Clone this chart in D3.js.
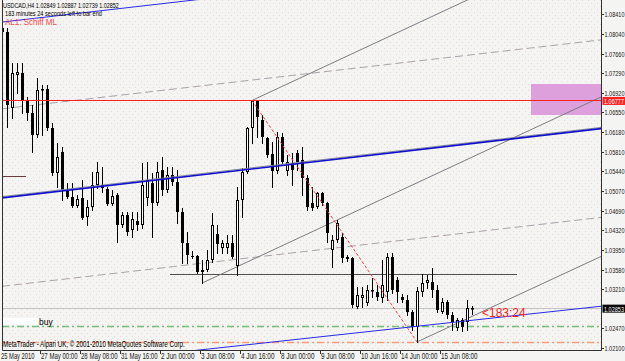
<!DOCTYPE html>
<html>
<head>
<meta charset="utf-8">
<script src="https://cdn.jsdelivr.net/npm/d3@7"></script>
<style>
html, body { margin: 0; padding: 0; background: #f4f4f2; }
svg { display: block; font-family: "Liberation Sans", Arial, sans-serif; }
</style>
</head>
<body>
<div id="chart"></div>
<script>
// USDCAD H4 with Schiff pitchfork, MT4 style snapshot

const symbol = "USDCAD,H4";

// H4 bars, oldest first (last one is the live bar)
const barOpen = [1.08145,1.08070,1.06633,1.07257,1.07295,1.06785,1.06539,1.06123,1.06974,1.06992,
  1.06255,1.05405,1.05802,1.05084,1.04951,1.04781,1.04932,1.04573,1.04762,1.05178,
  1.05178,1.05102,1.04819,1.04989,1.04422,1.04611,1.04328,1.04498,1.04422,1.04932,
  1.05216,1.04838,1.05462,1.05084,1.05367,1.05235,1.04668,1.04082,1.03836,1.03836,
  1.03534,1.03572,1.03761,1.04252,1.03987,1.03987,1.04082,1.03647,1.04895,1.05424,
  1.06255,1.06766,1.06407,1.06066,1.05764,1.05443,1.06085,1.05443,1.05594,1.05783,
  1.05651,1.05310,1.04838,1.04762,1.05027,1.04838,1.03950,1.04139,1.04195,1.03817,
  1.03798,1.02872,1.03042,1.02948,1.03175,1.03156,1.03042,1.03156,1.03817,1.03383,
  1.03061,1.03005,1.02778,1.02494,1.03156,1.03326,1.03345,1.03194,1.02778,1.02967,
  1.02721,1.02475,1.02627,1.02589,1.02849];
const barHigh = [1.08297,1.08145,1.07484,1.07484,1.07484,1.06841,1.06690,1.07200,1.07068,1.07068,
  1.06350,1.05972,1.05896,1.05216,1.05216,1.04989,1.05273,1.04895,1.05424,1.05613,
  1.05518,1.05140,1.05084,1.05027,1.04668,1.04668,1.04668,1.04668,1.05594,1.05613,
  1.05405,1.05613,1.05707,1.05518,1.05518,1.05462,1.04743,1.04290,1.03931,1.03855,
  1.03761,1.03950,1.04649,1.04422,1.04139,1.04233,1.04233,1.05140,1.05499,1.06274,
  1.06777,1.06760,1.06501,1.06085,1.05991,1.06180,1.06161,1.05745,1.05783,1.05840,
  1.05896,1.05367,1.05140,1.05046,1.05046,1.04857,1.04233,1.04517,1.04271,1.03855,
  1.03817,1.03250,1.03250,1.03288,1.03420,1.03288,1.03761,1.03893,1.03893,1.03439,
  1.03118,1.03099,1.02816,1.03250,1.03496,1.03477,1.03609,1.03288,1.03042,1.03005,
  1.02778,1.02664,1.02664,1.03005,1.02887];
const barLow = [1.08051,1.06274,1.06444,1.06917,1.06539,1.06407,1.05802,1.06085,1.06123,1.06218,
  1.05367,1.05140,1.04895,1.04932,1.04762,1.04762,1.04535,1.04422,1.04706,1.05121,
  1.05046,1.04800,1.04800,1.04101,1.04384,1.04233,1.04195,1.04328,1.04365,1.04800,
  1.04195,1.04800,1.04989,1.05046,1.05178,1.04460,1.03704,1.03704,1.03798,1.03515,
  1.03326,1.03553,1.03723,1.03893,1.03893,1.03893,1.03798,1.03477,1.04573,1.05405,
  1.05972,1.06085,1.05972,1.05707,1.05140,1.05405,1.05594,1.05367,1.05178,1.05462,
  1.04989,1.04706,1.04706,1.04743,1.04800,1.04101,1.03628,1.04101,1.03723,1.03742,
  1.02872,1.02853,1.02872,1.02910,1.03061,1.03005,1.02967,1.03005,1.03137,1.02967,
  1.02967,1.02721,1.02438,1.02215,1.03080,1.03231,1.03061,1.02778,1.02759,1.02664,
  1.02438,1.02438,1.02419,1.02438,1.02739];
const barClose = [1.08070,1.06690,1.07295,1.07314,1.06785,1.06539,1.06123,1.06974,1.06992,1.06255,
  1.05405,1.05707,1.05084,1.04951,1.04781,1.04913,1.04554,1.04762,1.05178,1.05424,
  1.05121,1.04819,1.04970,1.04422,1.04611,1.04290,1.04535,1.04422,1.05178,1.05273,
  1.04838,1.05424,1.05084,1.05367,1.05235,1.04668,1.04082,1.03855,1.03817,1.03534,
  1.03572,1.03761,1.04422,1.04063,1.04082,1.04082,1.03817,1.04895,1.05424,1.06255,
  1.06766,1.06463,1.06085,1.05745,1.05443,1.06085,1.05613,1.05613,1.05462,1.05613,
  1.05310,1.04762,1.04743,1.05027,1.04838,1.04271,1.04139,1.04460,1.03798,1.03779,
  1.02910,1.03099,1.03099,1.03194,1.03194,1.03061,1.03288,1.03817,1.03194,1.03156,
  1.03005,1.02778,1.02494,1.03175,1.03326,1.03383,1.03194,1.02816,1.02967,1.02721,
  1.02589,1.02627,1.02494,1.02853,1.02852];

// time axis: one label every 8 bars
const timeLabels = ["25 May 2010","27 May 00:00","28 May 08:00","31 May 16:00","2 Jun 00:00","3 Jun 08:00",
  "4 Jun 16:00","8 Jun 00:00","9 Jun 08:00","10 Jun 16:00","14 Jun 00:00","15 Jun 08:00"];
const priceTicks = [1.08410,1.08040,1.07660,1.07290,1.06920,1.06550,1.06180,1.05810,1.05440,
  1.05070,1.04690,1.04320,1.03950,1.03580,1.03210,1.02470,1.02100];

const bidPrice = 1.02853;
const alertPrice = 1.06777;
const buyLevel = 1.02515;
const stopLevel = 1.02219;
const oldLevel = 1.05355;
const rangeLevel = 1.03496;

// chart objects in [bar, price] coordinates
const schiffBlue = [[[0,1.08257],[120,1.09561]], [[0,1.04936],[120,1.06247]], [[0,1.01656],[120,1.02891]]];
const schiffWarn = [[[0,1.06619],[120,1.07923]], [[0,1.03266],[120,1.04569]]];
const forkLines = [[[50,1.06777],[120,1.09861]], [[40,1.03326],[120,1.06851]], [[83,1.02215],[120,1.03838]]];
const swingLine = [[50,1.06777],[83,1.02215]];
const rangeSpan = [33.6, 103];
const oldSpan = [0, 4.8];
const targetZone = {bars: [105.8, 120.4], prices: [1.06502, 1.07088]};

const width = 625, height = 361;
const plot = {left: 2, right: 601, top: 0, bottom: 350};

const x = d3.scaleLinear().domain([0, 120]).range([2, 602]);
const y = d3.scaleLinear().domain([1.0210, 1.0841]).range([348, 14]);

const svg = d3.select("#chart").append("svg")
  .attr("width", width).attr("height", height)
  .attr("viewBox", [0, 0, width, height]);

const defs = svg.append("defs");
defs.append("clipPath").attr("id", "plotclip")
  .append("rect").attr("x", plot.left).attr("y", plot.top)
  .attr("width", plot.right - plot.left).attr("height", plot.bottom - plot.top);
const pat = defs.append("pattern").attr("id", "dots")
  .attr("width", 6).attr("height", 6).attr("patternUnits", "userSpaceOnUse");
pat.append("rect").attr("x", 0).attr("y", 0).attr("width", 1).attr("height", 1).attr("fill", "#ead6d6");
pat.append("rect").attr("x", 3).attr("y", 3).attr("width", 1).attr("height", 1).attr("fill", "#ead6d6");

svg.append("rect").attr("width", width).attr("height", height).attr("fill", "#f4f4f2");
svg.append("rect").attr("x", plot.left).attr("y", plot.top)
  .attr("width", plot.right - plot.left).attr("height", plot.bottom - plot.top)
  .attr("fill", "url(#dots)");

const g = svg.append("g").attr("clip-path", "url(#plotclip)");
const crisp = v => Math.round(v) + 0.5;

// MT4 uses a narrow bitmap font, so squeeze the text horizontally to the measured width
function label(parent, str, px, py, size, fitWidth, color) {
  const t = parent.append("text").attr("font-size", size).attr("fill", color || "#000").text(str);
  const w = t.node().getComputedTextLength();
  const sx = fitWidth ? fitWidth / w : 1;
  t.attr("transform", `translate(${px},${py}) scale(${sx},1)`);
  return t;
}

// target zone box
g.append("rect")
  .attr("x", x(targetZone.bars[0])).attr("y", y(targetZone.prices[1]))
  .attr("width", x(targetZone.bars[1]) - x(targetZone.bars[0]))
  .attr("height", y(targetZone.prices[0]) - y(targetZone.prices[1]))
  .attr("fill", "#dda0dd");

// horizontal levels
function hline(price, x1, x2, color, dash, w) {
  g.append("line")
    .attr("x1", x1).attr("x2", x2)
    .attr("y1", crisp(y(price))).attr("y2", crisp(y(price)))
    .attr("stroke", color).attr("stroke-width", w || 1)
    .attr("stroke-dasharray", dash || null);
}
hline(bidPrice, plot.left, plot.right, "#c4c4c4");
hline(buyLevel, plot.left, plot.right, "#72c072", "7,3,2,3", 1.5);
hline(stopLevel, plot.left, plot.right, "#ff9a78", "7,3,2,3", 1.5);
hline(rangeLevel, x(rangeSpan[0]), x(rangeSpan[1]), "#505050");
hline(oldLevel, x(oldSpan[0]), x(oldSpan[1]), "#6a3a3a");

function seg(pts, color, w, dash) {
  g.append("line")
    .attr("x1", x(pts[0][0])).attr("y1", y(pts[0][1]))
    .attr("x2", x(pts[1][0])).attr("y2", y(pts[1][1]))
    .attr("stroke", color).attr("stroke-width", w)
    .attr("stroke-dasharray", dash || null);
}

schiffWarn.forEach(l => seg(l, "#aaa2aa", 1, "8,4"));
forkLines.forEach(l => seg(l, "#7c7c84", 1));

// candles
const bars = d3.range(barOpen.length).map(i => ({
  i, o: barOpen[i], h: barHigh[i], l: barLow[i], c: barClose[i]
}));

const candle = g.append("g").selectAll("g").data(bars).join("g");
candle.append("line")
  .attr("x1", d => Math.round(x(d.i)) + 0.5).attr("x2", d => Math.round(x(d.i)) + 0.5)
  .attr("y1", d => Math.round(y(d.h))).attr("y2", d => Math.round(y(d.l)) + 1)
  .attr("stroke", "#000");
candle.append("rect")
  .attr("x", d => d.c >= d.o ? Math.round(x(d.i)) - 0.5 : Math.round(x(d.i)) - 1)
  .attr("y", d => d.c >= d.o ? Math.round(y(d.c)) + 0.5 : Math.round(y(d.o)))
  .attr("width", d => d.c >= d.o ? 2 : 3)
  .attr("height", d => {
    const hgt = Math.round(y(Math.min(d.o, d.c))) - Math.round(y(Math.max(d.o, d.c)));
    return d.c >= d.o ? Math.max(0.5, hgt - 1) : Math.max(1, hgt);
  })
  .attr("fill", d => d.c >= d.o ? "#fff" : "#000")
  .attr("stroke", d => d.c >= d.o ? "#000" : "none");

// lines drawn over the bars
hline(alertPrice, plot.left, plot.right, "#ff2020");
seg(swingLine, "#f04040", 1, "3,2");
schiffBlue.forEach((l, k) => {
  if (k === 1) {
    g.append("line")
      .attr("x1", x(l[0][0])).attr("y1", y(l[0][1]) - 1.2)
      .attr("x2", x(l[1][0])).attr("y2", y(l[1][1]) - 1.2)
      .attr("stroke", "#8a8aa0").attr("stroke-width", 1);
    seg(l, "#1010c8", 1.6);
  } else {
    seg(l, "#2a2ae6", 1);
  }
});

// frame
svg.append("path")
  .attr("d", `M${plot.left + 0.5},0V${plot.bottom + 0.5}H${plot.right + 0.5}V0`)
  .attr("fill", "none").attr("stroke", "#303030");

// price axis
const pa = svg.append("g");
priceTicks.forEach(p => {
  const yy = crisp(y(p));
  pa.append("line").attr("x1", plot.right).attr("x2", plot.right + 3)
    .attr("y1", yy).attr("y2", yy).attr("stroke", "#303030");
  label(pa, p.toFixed(5), 604.5, yy + 2.5, 8, 20, "#202020");
});
function priceBox(p, bg) {
  const yy = y(p);
  pa.append("rect").attr("x", plot.right + 1.5).attr("y", yy - 3.5)
    .attr("width", 23.5).attr("height", 8).attr("fill", bg);
  label(pa, p.toFixed(5), 604, yy + 3.6, 7.5, 20, "#fff");
}
priceBox(alertPrice, "#ff2020");
priceBox(bidPrice, "#000");

// time axis
const ta = svg.append("g");
timeLabels.forEach((t, k) => {
  const xx = Math.round(x(k * 8)) - 2;
  if (k > 0) {
    ta.append("line").attr("x1", xx + 0.5).attr("x2", xx + 0.5)
      .attr("y1", plot.bottom).attr("y2", plot.bottom + 4).attr("stroke", "#303030");
  }
  label(ta, t, Math.max(0.5, xx + 1), 358.5, 9, t.length * 3.05, "#202020");
});

// chart captions
const last = bars[bars.length - 1];
const head = `${symbol}  ${last.o.toFixed(5)} ${last.h.toFixed(5)} ${last.l.toFixed(5)} ${last.c.toFixed(5)}`;
label(svg, head, 3, 7.5, 8, 116);
label(svg, "183 minutes 24 seconds left to bar end", 5, 16, 7.5, 97);
label(svg, "AL1: Schiff ML", 5, 25, 9.5, 52, "#ff4848");
label(svg, "MetaTrader - Alpari UK, © 2001-2010 MetaQuotes Software Corp.", 3, 347, 8.5, 182);

// bar timer
label(svg, "<183:24", x(last.i) + 10, 317, 12, null, "#ff2020");

// buy label
svg.append("rect").attr("x", 3).attr("y", 318).attr("width", 35).attr("height", 7).attr("fill", "#fff");
label(svg, "buy", 39, 324.5, 8.5);
</script>
</body>
</html>
